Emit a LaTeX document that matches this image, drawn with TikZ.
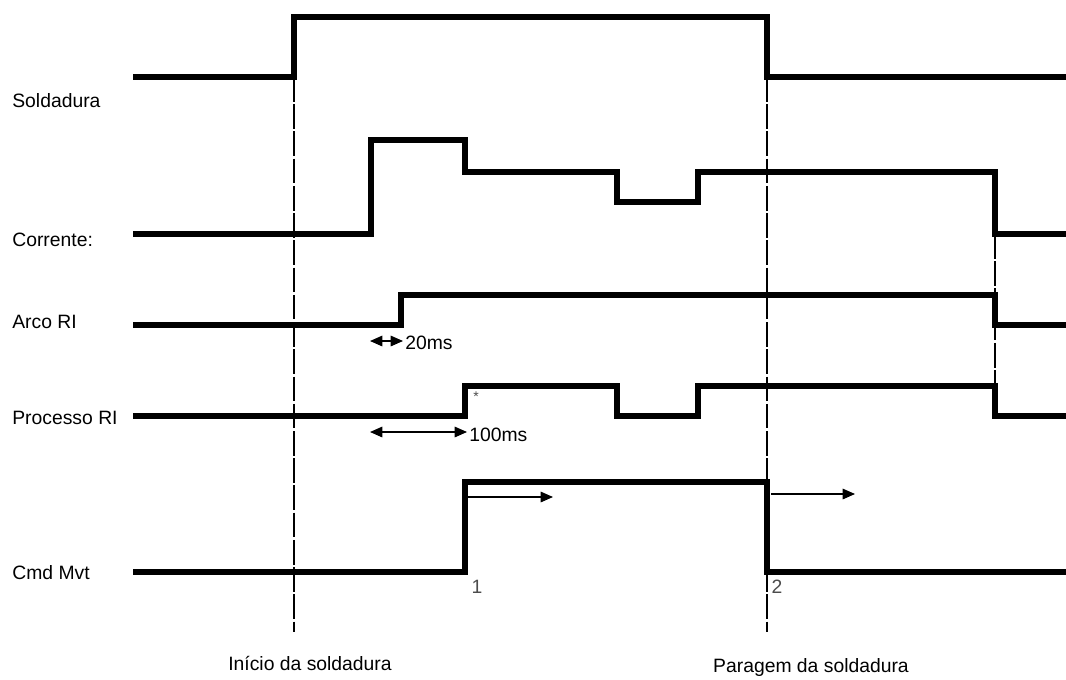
\documentclass[tikz,border=0pt]{standalone}
\usepackage{fontspec}
\setmainfont{Liberation Sans}
\usetikzlibrary{arrows.meta}

\begin{document}
\begin{tikzpicture}[x=0.02cm, y=-0.02cm, font=\fontsize{11}{13}\selectfont,
        every node/.style={inner sep=0pt},
        sig/.style={line width=3.3pt, line join=miter},
        guide/.style={line width=0.6pt, dash pattern=on 14pt off 1.5pt},
        tim/.style={line width=0.7pt, -{Triangle[length=7pt,width=6pt]}},
        tick/.style={text=black!70}]
        \useasboundingbox (0,0) rectangle (1066,680);
        % signal names
        \node[anchor=west] (sold) at (12,101) {Soldadura};
        \node[anchor=west] (corr) at (12,240) {Corrente:};
        \node[anchor=west] (arco) at (12,322) {Arco RI};
        \node[anchor=west] (proc) at (12,418) {Processo RI};
        \node[anchor=west] (cmd) at (12,573) {Cmd Mvt};
        % guide lines
        \draw[guide] (294,77) -- (294,632);
        \draw[guide] (767,77) -- (767,632);
        \draw[guide] (995,234) -- (995,386);
        % signals
        \draw[sig] (133,77) -- (294,77) -- (294,17) -- (767,17) -- (767,77) -- (1066,77);
        \draw[sig] (133,234) -- (371,234) -- (371,140) -- (465,140) -- (465,172) -- (617,172)
                -- (617,202) -- (698,202) -- (698,172) -- (995,172) -- (995,234) -- (1066,234);
        \draw[sig] (133,325) -- (401,325) -- (401,295) -- (995,295) -- (995,325) -- (1066,325);
        \draw[sig] (133,416) -- (465,416) -- (465,386) -- (617,386) -- (617,416) -- (698,416)
                -- (698,386) -- (995,386) -- (995,416) -- (1066,416);
        \draw[sig] (133,572) -- (465,572) -- (465,482) -- (767,482) -- (767,572) -- (1066,572);
        % delays
        \coordinate (a1) at (370,341); \coordinate (a2) at (403,341);
        \draw[tim, {Triangle[length=7pt,width=6pt]}-{Triangle[length=7pt,width=6pt]}] (a1) -- (a2);
        \node[anchor=west] (t20) at (405,343) {20ms};
        \coordinate (b1) at (370,432); \coordinate (b2) at (467,432);
        \draw[tim, {Triangle[length=7pt,width=6pt]}-{Triangle[length=7pt,width=6pt]}] (b1) -- (b2);
        \node[anchor=west] (t100) at (469,435) {100ms};
        \node[tick, font=\footnotesize] (star) at (476,397) {*};
        % movement
        \coordinate (m1) at (468,497); \coordinate (m2) at (553,497);
        \draw[tim] (m1) -- (m2);
        \coordinate (n1) at (771,494); \coordinate (n2) at (855,494);
        \draw[tim] (n1) -- (n2);
        \node[tick] (one) at (477,587) {1};
        \node[tick] (two) at (777,587) {2};
        % events
        \node (start) at (310,663) {Início da soldadura};
        \node (stop) at (811,667) {Paragem da soldadura};
\end{tikzpicture}
\end{document}
